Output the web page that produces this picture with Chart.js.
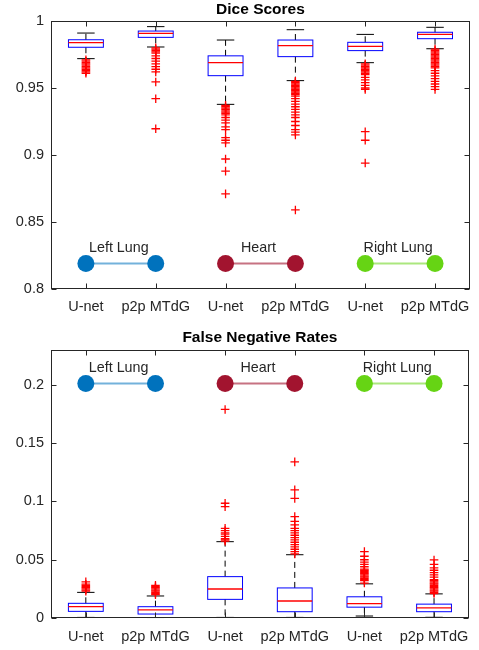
<!DOCTYPE html>
<html><head><meta charset="utf-8">
<script src="https://cdn.jsdelivr.net/npm/chart.js@4/dist/chart.umd.min.js"></script>
<style>
html,body{margin:0;padding:0;background:#fff;width:479px;height:650px;overflow:hidden}
#c1{position:absolute;left:0;top:0}
#c2{position:absolute;left:0;top:320px}
</style></head><body>
<canvas id="c1" width="479" height="320"></canvas>
<canvas id="c2" width="479" height="330"></canvas>
<script>
// ---------- data ----------
const categories = ['U-net', 'p2p MTdG', 'U-net', 'p2p MTdG', 'U-net', 'p2p MTdG'];
const groups = ['Left Lung', 'Heart', 'Right Lung'];
const groupColors = ['#0072BD', '#A2142F', '#66D414'];
const groupLineColors = ['rgba(0,114,189,0.55)', 'rgba(162,20,47,0.6)', 'rgba(102,212,20,0.55)'];

// Dice Scores
const diceTicks = [0.8, 0.85, 0.9, 0.95, 1];
const diceTickLabels = ['0.8', '0.85', '0.9', '0.95', '1'];
const diceLow = [0.9719, 0.9806, 0.9378, 0.9555, 0.9689, 0.9793];
const diceQ1 = [0.9804, 0.9878, 0.9592, 0.9734, 0.9779, 0.9868];
const diceMedian = [0.9838, 0.9908, 0.9689, 0.9816, 0.9811, 0.9900];
const diceQ3 = [0.9860, 0.9925, 0.9740, 0.9858, 0.9841, 0.9916];
const diceHigh = [0.9910, 0.9958, 0.9858, 0.9935, 0.9900, 0.9953];
const diceOutliers = [
  [0.971, 0.970, 0.969, 0.968, 0.967, 0.966, 0.965, 0.964, 0.963, 0.962, 0.961],
  [0.980, 0.979, 0.978, 0.977, 0.976, 0.974, 0.972, 0.970, 0.968, 0.966, 0.964, 0.962, 0.9545, 0.942, 0.9196],
  [0.937, 0.936, 0.935, 0.934, 0.933, 0.932, 0.931, 0.930, 0.928, 0.926, 0.924, 0.921, 0.919, 0.913, 0.911, 0.909, 0.897, 0.888, 0.871],
  [0.955, 0.954, 0.953, 0.952, 0.951, 0.950, 0.949, 0.948, 0.947, 0.946, 0.945, 0.944, 0.942, 0.940, 0.938, 0.936, 0.934, 0.932, 0.930, 0.928, 0.925, 0.922, 0.919, 0.917, 0.915, 0.859],
  [0.968, 0.967, 0.966, 0.965, 0.964, 0.963, 0.962, 0.961, 0.960, 0.958, 0.956, 0.954, 0.952, 0.950, 0.949, 0.9174, 0.911, 0.894],
  [0.979, 0.978, 0.977, 0.976, 0.975, 0.974, 0.973, 0.972, 0.971, 0.970, 0.969, 0.968, 0.967, 0.966, 0.965, 0.963, 0.961, 0.959, 0.957, 0.955, 0.953, 0.951, 0.949]
];
const diceMarkerY = 0.819;
const diceGroupLabelY = 0.8276;

// False Negative Rates
const fnrTicks = [0, 0.05, 0.1, 0.15, 0.2];
const fnrTickLabels = ['0', '0.05', '0.1', '0.15', '0.2'];
const fnrLow = [0.0005, 0.0004, 0.0005, 0.0005, 0.0017, 0.0006];
const fnrQ1 = [0.0057, 0.0034, 0.0160, 0.0054, 0.0093, 0.0054];
const fnrMedian = [0.0097, 0.0069, 0.0249, 0.0146, 0.0123, 0.0087];
const fnrQ3 = [0.0126, 0.0097, 0.0355, 0.0258, 0.0182, 0.0119];
const fnrHigh = [0.0220, 0.0189, 0.0655, 0.0543, 0.0293, 0.0207];
const fnrOutliers = [
  [0.023, 0.024, 0.025, 0.026, 0.027, 0.028, 0.029, 0.031],
  [0.020, 0.021, 0.022, 0.023, 0.024, 0.025, 0.026, 0.027, 0.028],
  [0.066, 0.067, 0.068, 0.070, 0.072, 0.073, 0.075, 0.077, 0.0956, 0.0985, 0.179],
  [0.055, 0.057, 0.059, 0.061, 0.063, 0.065, 0.067, 0.069, 0.071, 0.073, 0.075, 0.077, 0.080, 0.083, 0.087, 0.1027, 0.110, 0.134],
  [0.030, 0.032, 0.033, 0.034, 0.035, 0.036, 0.037, 0.038, 0.039, 0.040, 0.041, 0.042, 0.044, 0.046, 0.048, 0.050, 0.053, 0.057],
  [0.021, 0.022, 0.023, 0.024, 0.025, 0.026, 0.027, 0.028, 0.029, 0.030, 0.031, 0.032, 0.033, 0.035, 0.037, 0.039, 0.041, 0.043, 0.046, 0.0498]
];
const fnrMarkerY = 0.2012;
const fnrGroupLabelY = 0.2109;

// ---------- rendering ----------
const FONT = '"Liberation Sans", Arial, Helvetica, sans-serif';
const TEXT = '#262626';

function buildDatasets(outliers, markerY) {
  const ds = [];
  groups.forEach((g, gi) => {
    ds.push({
      type: 'line', label: g,
      data: [{x: gi * 2 + 1, y: markerY}, {x: gi * 2 + 2, y: markerY}],
      borderColor: groupLineColors[gi], borderWidth: 2,
      pointRadius: 8.5, pointHoverRadius: 8.5,
      pointBackgroundColor: groupColors[gi], pointBorderColor: groupColors[gi], pointBorderWidth: 0,
      showLine: true, fill: false, order: 2
    });
  });
  const pts = [];
  outliers.forEach((arr, i) => arr.forEach(v => pts.push({x: i + 1, y: v})));
  ds.push({
    type: 'scatter', label: 'outliers', data: pts,
    pointStyle: 'cross', pointRadius: 4.3, pointHoverRadius: 4.3,
    borderColor: '#FF0000', backgroundColor: '#FF0000', pointBorderWidth: 1.3, borderWidth: 1.3, order: 1
  });
  return ds;
}

function boxPlugin(stats, title, titleBaseline, labelY) {
  return {
    id: 'boxdraw',
    beforeDatasetsDraw(chart) {
      const {ctx} = chart; const x = chart.scales.x, y = chart.scales.y;
      const hw = x.getPixelForValue(1.25) - x.getPixelForValue(1);
      const cw = hw / 2;
      const line = (x1, y1, x2, y2) => { ctx.beginPath(); ctx.moveTo(x1, y1); ctx.lineTo(x2, y2); ctx.stroke(); };
      ctx.save();
      ctx.lineWidth = 1;
      for (let i = 0; i < stats.med.length; i++) {
        const cx = x.getPixelForValue(i + 1);
        const ylo = y.getPixelForValue(stats.low[i]);
        const yq1 = y.getPixelForValue(stats.q1[i]);
        const ymed = y.getPixelForValue(stats.med[i]);
        const yq3 = y.getPixelForValue(stats.q3[i]);
        const yhi = y.getPixelForValue(stats.high[i]);
        ctx.strokeStyle = '#000';
        ctx.setLineDash([6, 4]);
        line(cx, yq3, cx, yhi);
        line(cx, yq1, cx, ylo);
        ctx.setLineDash([]);
        line(cx - cw, yhi, cx + cw, yhi);
        line(cx - cw, ylo, cx + cw, ylo);
        ctx.strokeStyle = '#0000FF';
        ctx.strokeRect(cx - hw, yq3, 2 * hw, yq1 - yq3);
        ctx.strokeStyle = '#FF0000';
        ctx.lineWidth = 1.3;
        line(cx - hw, ymed, cx + hw, ymed);
        ctx.lineWidth = 1;
      }
      ctx.restore();
    },
    afterDraw(chart) {
      const {ctx, chartArea: a} = chart; const x = chart.scales.x, y = chart.scales.y;
      ctx.save();
      // frame
      ctx.strokeStyle = '#262626'; ctx.lineWidth = 1;
      const L = Math.round(a.left) + 0.5, R = Math.round(a.right) - 0.5, T = Math.round(a.top) + 0.5, B = Math.round(a.bottom) - 0.5;
      ctx.strokeRect(L, T, R - L, B - T);
      // inward ticks
      const tl = 5;
      y.ticks.forEach(t => {
        const py = Math.round(y.getPixelForValue(t.value)) + 0.5;
        ctx.beginPath(); ctx.moveTo(L, py); ctx.lineTo(L + tl, py); ctx.moveTo(R, py); ctx.lineTo(R - tl, py); ctx.stroke();
      });
      x.ticks.forEach(t => {
        const px = Math.round(x.getPixelForValue(t.value)) + 0.5;
        ctx.beginPath(); ctx.moveTo(px, B); ctx.lineTo(px, B - tl); ctx.moveTo(px, T); ctx.lineTo(px, T + tl); ctx.stroke();
      });
      // title
      ctx.fillStyle = '#000';
      ctx.font = 'bold 15.5px ' + FONT;
      ctx.textAlign = 'center'; ctx.textBaseline = 'alphabetic';
      ctx.fillText(title, (a.left + a.right) / 2, titleBaseline);
      // group labels
      ctx.fillStyle = TEXT;
      ctx.font = '14.3px ' + FONT;
      groups.forEach((g, gi) => {
        const px = (x.getPixelForValue(gi * 2 + 1) + x.getPixelForValue(gi * 2 + 2)) / 2 - 2;
        ctx.fillText(g, px, y.getPixelForValue(labelY));
      });
      ctx.restore();
    }
  };
}

function makeChart(id, outliers, markerY, stats, yMin, yMax, yTicks, yTickLabels, title, titleBaseline, labelY, padTop, xHeight, xPad) {
  return new Chart(document.getElementById(id), {
    type: 'scatter',
    data: {datasets: buildDatasets(outliers, markerY)},
    options: {
      responsive: false, animation: false, devicePixelRatio: 1,
      layout: {padding: {top: padTop, right: 7, left: 0, bottom: 0}},
      plugins: {legend: {display: false}, tooltip: {enabled: false}, title: {display: false}},
      scales: {
        x: {
          type: 'linear', min: 0.5, max: 6.5,
          afterBuildTicks: s => { s.ticks = categories.map((c, i) => ({value: i + 1})); },
          afterFit: s => { s.height = xHeight; },
          grid: {drawOnChartArea: false, drawTicks: false},
          border: {display: false},
          ticks: {
            autoSkip: false, maxRotation: 0, padding: xPad, color: TEXT,
            font: {family: FONT, size: 14.5},
            callback: (v) => categories[Math.round(v) - 1]
          }
        },
        y: {
          type: 'linear', min: yMin, max: yMax,
          afterBuildTicks: s => { s.ticks = yTicks.map(v => ({value: v})); },
          afterFit: s => { s.width = 51; },
          grid: {drawOnChartArea: false, drawTicks: false},
          border: {display: false},
          ticks: {
            padding: 7, color: TEXT,
            font: {family: FONT, size: 14.5},
            callback: (v) => { const i = yTicks.findIndex(t => Math.abs(t - v) < 1e-9); return i >= 0 ? yTickLabels[i] : ''; }
          }
        }
      }
    },
    plugins: [boxPlugin(stats, title, titleBaseline, labelY)]
  });
}

makeChart('c1', diceOutliers, diceMarkerY,
  {low: diceLow, q1: diceQ1, med: diceMedian, q3: diceQ3, high: diceHigh},
  0.8, 1, diceTicks, diceTickLabels, 'Dice Scores', 14, diceGroupLabelY, 21, 31, 9);

makeChart('c2', fnrOutliers, fnrMarkerY,
  {low: fnrLow, q1: fnrQ1, med: fnrMedian, q3: fnrQ3, high: fnrHigh},
  0, 0.23, fnrTicks, fnrTickLabels, 'False Negative Rates', 22, fnrGroupLabelY, 30, 32, 10);
</script>
</body></html>
